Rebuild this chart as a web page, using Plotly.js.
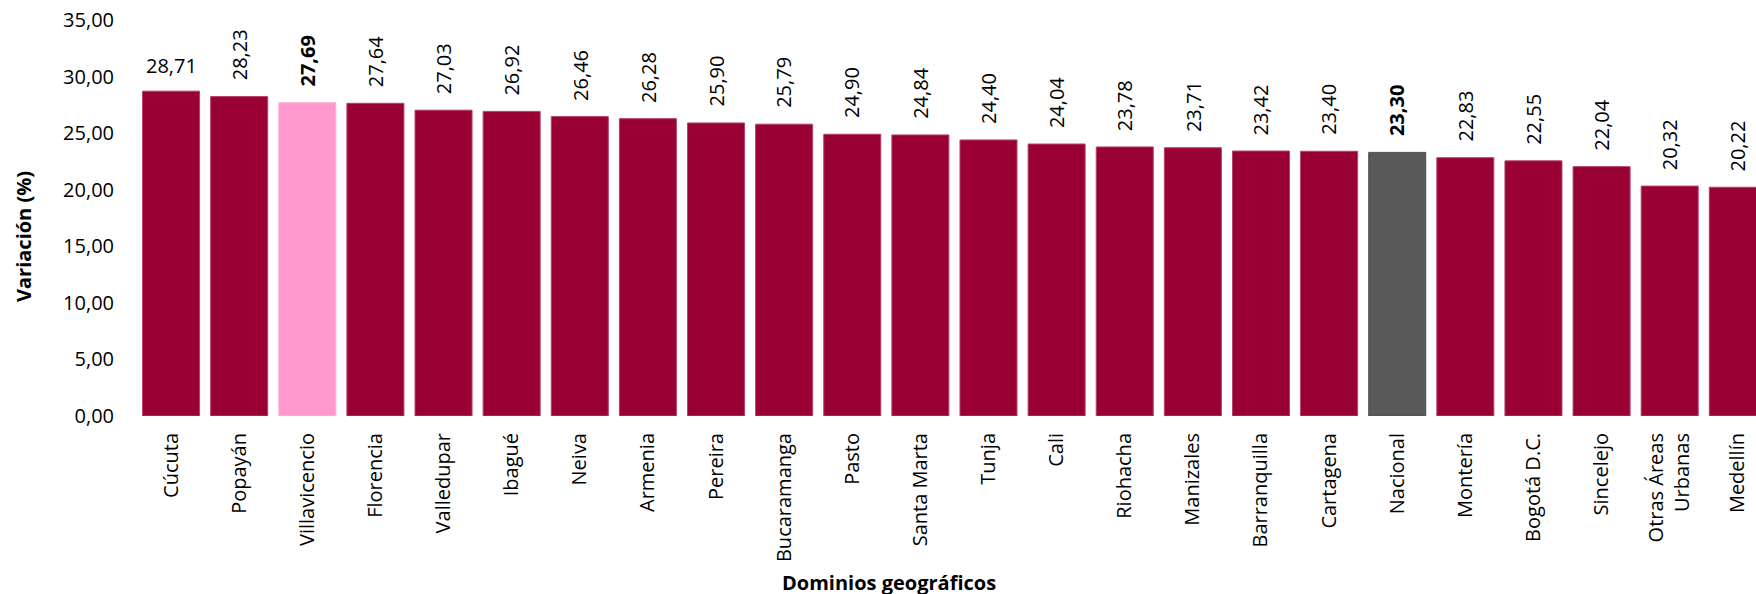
<!DOCTYPE html>
<html>
<head>
<meta charset="utf-8">
<script src="https://cdn.plot.ly/plotly-3.0.1.min.js"></script>
<style>html,body{margin:0;padding:0;background:#fff;}#chart{width:1756px;height:594px;}</style>
</head>
<body>
<div id="chart"></div>
<script>
var categories = ["Cúcuta","Popayán","Villavicencio","Florencia","Valledupar","Ibagué","Neiva","Armenia","Pereira","Bucaramanga","Pasto","Santa Marta","Tunja","Cali","Riohacha","Manizales","Barranquilla","Cartagena","Nacional","Montería","Bogotá D.C.","Sincelejo","Otras Áreas<br>Urbanas","Medellín"];
var values = [28.71,28.23,27.69,27.64,27.03,26.92,26.46,26.28,25.90,25.79,24.90,24.84,24.40,24.04,23.78,23.71,23.42,23.40,23.30,22.83,22.55,22.04,20.32,20.22];
var highlightCity = "Villavicencio";
var nationalName = "Nacional";
var yTicks = [0,5,10,15,20,25,30,35];

var MAROON = "#990033", PINK = "#FF99CC", GRAY = "#595959";
var FONT = "'Open Sans', 'Noto Sans', sans-serif";

var colors = categories.map(function(c){
  if (c === highlightCity) return PINK;
  if (c === nationalName) return GRAY;
  return MAROON;
});
var lineColors = categories.map(function(c){
  if (c === highlightCity) return "#FFB3D9";
  if (c === nationalName) return "#505050";
  return "#B5406A";
});
var xIdx = categories.map(function(c,i){return i;});

var trace = {
  type: "bar",
  x: xIdx,
  y: values,
  marker: {color: colors, line: {color: lineColors, width: 1}},
  hoverinfo: "none"
};

function fmt(v){ return v.toFixed(2).replace(".", ","); }

var annotations = values.map(function(v,i){
  var bold = (categories[i] === highlightCity || categories[i] === nationalName);
  var horiz = (i === 0);
  return {
    xref: "x", yref: "y", x: i, y: v,
    text: bold ? "<b>" + fmt(v) + "</b>" : fmt(v),
    showarrow: false,
    textangle: horiz ? 0 : -90,
    xanchor: "center", yanchor: "bottom",
    yshift: horiz ? 10 : 14,
    font: {family: FONT, size: 20, color: "#000"}
  };
});

var plotLeft = 137, plotWidth = 1756 - 137, plotTop = 20, plotHeight = 594 - 20 - 178;
annotations.push({
  xref: "paper", yref: "paper",
  x: (889 - plotLeft) / plotWidth, y: -(582 - plotTop - plotHeight) / plotHeight,
  text: "<b>Dominios geográficos</b>", showarrow: false,
  xanchor: "center", yanchor: "middle",
  font: {family: FONT, size: 20, color: "#000"}
});
annotations.push({
  xref: "paper", yref: "paper",
  x: -(plotLeft - 23) / plotWidth, y: 1 - (237 - plotTop) / plotHeight,
  text: "<b>Variación (%)</b>", showarrow: false, textangle: -90,
  xanchor: "center", yanchor: "middle",
  font: {family: FONT, size: 20, color: "#000"}
});

var layout = {
  width: 1756, height: 594, autosize: false,
  margin: {l: plotLeft, r: 0, t: plotTop, b: 178, pad: 0},
  paper_bgcolor: "#fff", plot_bgcolor: "#fff",
  separators: ",.",
  bargap: 0.163,
  showlegend: false,
  font: {family: FONT, size: 20, color: "#000"},
  xaxis: {
    range: [-0.5, -0.5 + plotWidth / 68.12],
    tickmode: "array", tickvals: xIdx, ticktext: categories,
    tickangle: -90, ticks: "", showgrid: false, zeroline: false, showline: false,
    ticklabelstandoff: 12,
    tickfont: {family: FONT, size: 20, color: "#000"},
    fixedrange: true
  },
  yaxis: {
    range: [0, 35], tickmode: "array", tickvals: yTicks, tickformat: ".2f",
    ticks: "", showgrid: false, zeroline: false, showline: false,
    ticklabelstandoff: 22,
    tickfont: {family: FONT, size: 20, color: "#000"},
    fixedrange: true
  },
  annotations: annotations
};

Plotly.newPlot("chart", [trace], layout, {displayModeBar: false, staticPlot: true});
</script>
</body>
</html>
